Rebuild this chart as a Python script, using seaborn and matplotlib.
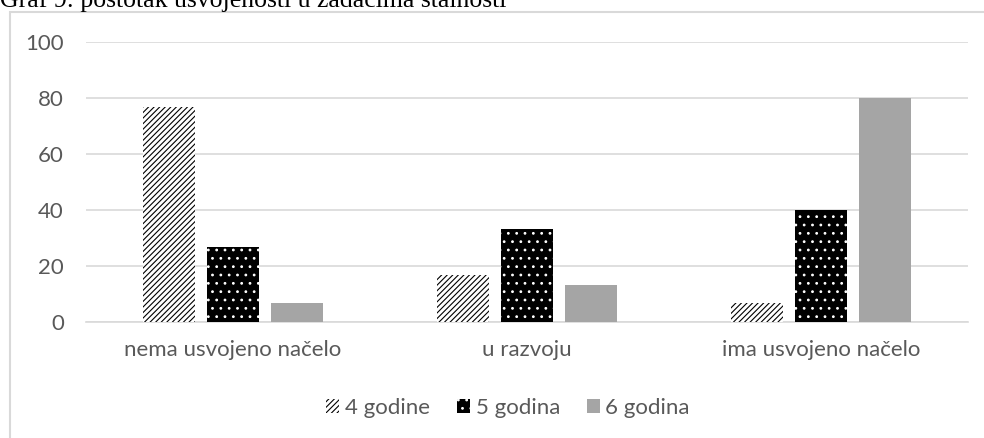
import matplotlib
matplotlib.use("Agg")
import matplotlib.pyplot as plt
from matplotlib.patches import Rectangle
import seaborn as sns
import pandas as pd

# Chart data
categories = ["nema usvojeno načelo", "u razvoju", "ima usvojeno načelo"]
age_groups = ["4 godine", "5 godina", "6 godina"]
values_4 = [76.7, 16.7, 6.7]
values_5 = [26.7, 33.3, 40.0]
values_6 = [6.7, 13.3, 80.0]
y_ticks = [0, 20, 40, 60, 80, 100]
title_text = "Graf 9: postotak usvojenosti u zadacima stalnosti"

df = pd.DataFrame({
    "kategorija": categories * 3,
    "dob": [age_groups[0]] * 3 + [age_groups[1]] * 3 + [age_groups[2]] * 3,
    "postotak": values_4 + values_5 + values_6,
})

plt.rcParams["font.family"] = ["Lato", "DejaVu Sans"]
plt.rcParams["hatch.linewidth"] = 0.8

W, H = 984, 438
fig = plt.figure(figsize=(W / 100, H / 100), dpi=100)
ax = fig.add_axes([86 / W, 1 - 322 / H, (968 - 86) / W, (322 - 42) / H])

sns.barplot(
    data=df, x="kategorija", y="postotak", hue="dob",
    order=categories, hue_order=age_groups,
    palette=["white", "black", "#A5A5A5"], saturation=1,
    width=0.653, gap=0.2, legend=False, ax=ax, zorder=3,
)

# patterns per series
styles = [("white", "black", "//////"), ("black", "white", ".."), ("#A5A5A5", "#A5A5A5", None)]
for cont, (fc, ec, hatch) in zip(ax.containers, styles):
    for p in cont:
        p.set_facecolor(fc)
        p.set_edgecolor(ec)
        p.set_linewidth(0)
        if hatch:
            p.set_hatch(hatch)

ax.set_ylim(0, 100)
ax.set_yticks(y_ticks)
ax.set_xlabel("")
ax.set_ylabel("")
ax.grid(axis="y", color="#D9D9D9", lw=1.2, zorder=0)
ax.set_axisbelow(True)
for s in ["top", "right", "left"]:
    ax.spines[s].set_visible(False)
ax.spines["bottom"].set_color("#D9D9D9")
ax.spines["bottom"].set_linewidth(1.2)
ax.tick_params(axis="y", length=0, pad=16, labelsize=16, labelcolor="#595959")
ax.tick_params(axis="x", length=0, pad=13, labelsize=16, labelcolor="#595959")

fig.legend(ax.containers, age_groups, loc="center",
           bbox_to_anchor=(508 / W, 1 - 408 / H), ncol=3, frameon=False,
           fontsize=16, labelcolor="#595959", handlelength=0.6,
           handleheight=0.6, handletextpad=0.25, columnspacing=1.2)

# outer chart frame and caption (clipped at the top, as in the source)
fig.patches.append(Rectangle((10 / W, -0.1), 1.2, 1 - 12 / H + 0.1,
                             transform=fig.transFigure, fill=False,
                             edgecolor="#D9D9D9", lw=1.5))
fig.text(0.0, 1 - 7 / H, title_text, family=["Liberation Serif", "DejaVu Serif"],
         fontsize=18.5, color="black", ha="left", va="baseline")

fig.savefig("out.png", dpi=100)
